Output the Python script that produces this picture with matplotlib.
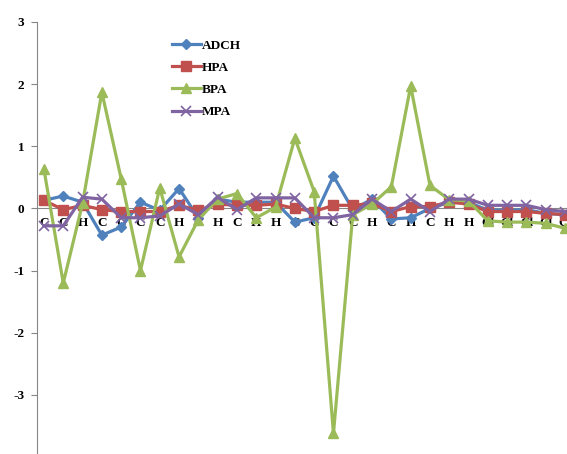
import matplotlib
matplotlib.use("Agg")
import matplotlib.pyplot as plt
import numpy as np

categories = ["C", "C", "H", "C", "C", "C", "C", "H", "C", "H", "C", "H", "H", "C",
              "C", "C", "C", "H", "C", "H", "C", "H", "H", "Cl", "Cl", "Cl", "Cl", "Cl"]

adch = [0.13, 0.20, 0.10, -0.43, -0.30, 0.10, -0.03, 0.32, -0.15, 0.15, 0.10, 0.10, 0.10, -0.22,
        -0.15, 0.52, -0.02, 0.15, -0.17, -0.15, 0.00, 0.10, 0.10, -0.03, -0.03, -0.02, -0.08, -0.10]
hpa = [0.13, -0.02, 0.05, -0.02, -0.05, -0.05, -0.05, 0.05, -0.03, 0.07, 0.05, 0.05, 0.07, 0.00,
       -0.05, 0.05, 0.05, 0.08, -0.05, 0.03, 0.03, 0.10, 0.07, -0.05, -0.05, -0.05, -0.08, -0.10]
bpa = [0.63, -1.20, 0.08, 1.87, 0.48, -1.00, 0.33, -0.78, -0.18, 0.15, 0.24, -0.15, 0.02, 1.13,
       0.27, -3.62, -0.10, 0.07, 0.35, 1.97, 0.37, 0.14, 0.12, -0.20, -0.22, -0.22, -0.24, -0.32]
mpa = [-0.28, -0.28, 0.18, 0.15, -0.15, -0.15, -0.12, 0.07, -0.10, 0.18, -0.02, 0.17, 0.17, 0.17,
       -0.15, -0.15, -0.10, 0.15, -0.05, 0.15, -0.05, 0.15, 0.15, 0.05, 0.05, 0.05, -0.02, -0.05]

series_names = ["ADCH", "HPA", "BPA", "MPA"]
yticks = [-4, -3, -2, -1, 0, 1, 2, 3]

plt.rcParams["font.family"] = ["Liberation Serif", "DejaVu Serif"]
plt.rcParams["font.weight"] = "bold"
plt.rcParams["font.size"] = 9.5

W, H = 567, 454
fig = plt.figure(figsize=(W / 100, H / 100), dpi=100)
left_px, right_px = 37, 567
top_px, bottom_px = 22, 457
ax = fig.add_axes([left_px / W, (H - bottom_px) / H,
                   (right_px - left_px) / W, (bottom_px - top_px) / H])

x = np.arange(len(categories))

ax.plot(x, adch, color="#4F81BD", lw=2.3, marker="D", ms=5.5, label=series_names[0], zorder=3)
ax.plot(x, hpa, color="#C0504D", lw=2.3, marker="s", ms=6.5, label=series_names[1], zorder=4)
ax.plot(x, bpa, color="#9BBB59", lw=2.3, marker="^", ms=7, label=series_names[2], zorder=5)
ax.plot(x, mpa, color="#8064A2", lw=2.3, marker="x", ms=7, mew=1.2, label=series_names[3], zorder=6)

ax.set_ylim(-4, 3)
ax.set_xlim(-0.36, 27.1)
ax.set_yticks(yticks)
ax.set_yticklabels([str(v) for v in yticks], fontweight="bold", fontsize=9.5)
ax.set_xticks(x)
ax.set_xticklabels(categories, fontweight="bold", fontsize=9.5)

for s in ["top", "right"]:
    ax.spines[s].set_visible(False)
ax.spines["bottom"].set_position(("data", 0))
ax.spines["bottom"].set_color("#868686")
ax.spines["left"].set_color("#868686")
ax.spines["bottom"].set_zorder(1)
ax.tick_params(axis="x", length=0, pad=6)
ax.tick_params(axis="y", length=4, width=0.8, color="#868686", pad=5)

leg = ax.legend(loc="upper left", bbox_to_anchor=(165 / W, 1 - 33 / H),
                bbox_transform=fig.transFigure, frameon=False,
                prop={"weight": "bold", "size": 9.5},
                handlelength=2.2, handletextpad=0.1, labelspacing=0.75, borderpad=0)

fig.savefig("out.png", dpi=100)
